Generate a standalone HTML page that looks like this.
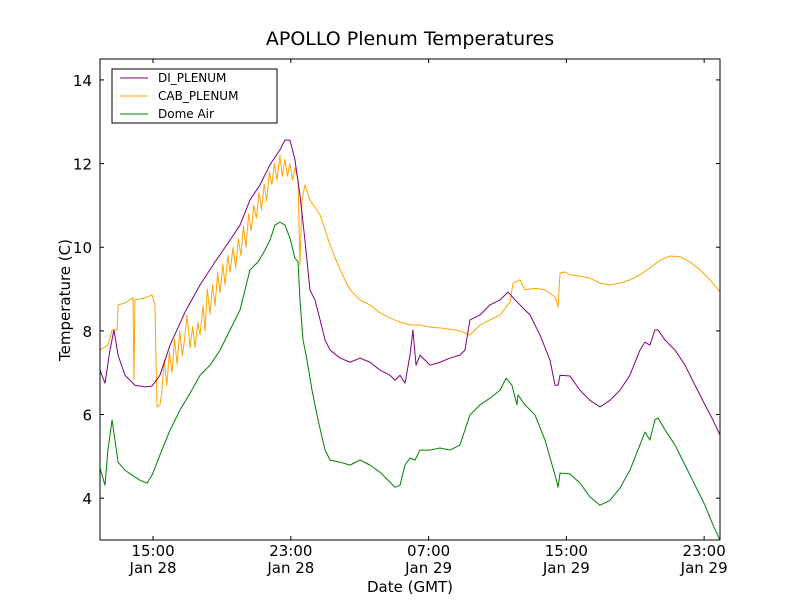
<!DOCTYPE html>
<html><head><meta charset="utf-8"><style>
html,body{margin:0;padding:0;background:#fff;}
svg{display:block;font-family:"DejaVu Sans","Liberation Sans",sans-serif;}
</style></head><body>
<svg id="chart" width="800" height="600" viewBox="0 0 800 600">
<rect x="0" y="0" width="800" height="600" fill="#fff"/>
<text x="410" y="45" text-anchor="middle" font-size="19">APOLLO Plenum Temperatures</text>
<defs><clipPath id="clip"><rect x="100" y="59" width="620" height="481"/></clipPath></defs>
<g id="series" clip-path="url(#clip)"></g>
<rect x="100" y="59" width="620" height="481" fill="none" stroke="#000" stroke-width="1"/>
<g id="axes"></g>
<text x="410" y="592" text-anchor="middle" font-size="15">Date (GMT)</text>
<text x="70" y="300" text-anchor="middle" font-size="15" transform="rotate(-90 70 300)">Temperature (C)</text>
<g>
<rect x="112" y="69" width="165" height="54" fill="#fff" stroke="#000" stroke-width="1"/>
<line x1="120" y1="78" x2="148" y2="78" stroke="#800080"/>
<text x="158" y="82" font-size="12">DI_PLENUM</text>
<line x1="120" y1="96" x2="148" y2="96" stroke="#ffa500"/>
<text x="158" y="100" font-size="12">CAB_PLENUM</text>
<line x1="120" y1="114" x2="148" y2="114" stroke="#008000"/>
<text x="158" y="118" font-size="12">Dome Air</text>
</g>
</svg>
<script>
// hours since Jan 28 00:00 GMT
const diTimes=[11.92,12.21,12.50,12.73,12.97,13.37,13.95,14.53,14.94,15.40,15.99,16.86,17.73,18.60,19.47,20.05,20.63,21.21,21.79,22.37,22.66,22.95,23.24,23.53,23.82,24.11,24.40,24.70,24.99,25.28,25.86,26.44,27.02,27.60,28.18,28.76,29.05,29.34,29.63,29.92,30.09,30.27,30.50,30.79,31.08,31.66,32.24,32.82,33.11,33.40,33.98,34.56,35.15,35.61,36.02,36.31,36.89,37.47,38.05,38.34,38.52,38.63,39.21,39.79,40.37,40.95,41.53,42.11,42.69,43.27,43.56,43.85,44.14,44.32,44.73,45.31,45.89,46.47,47.05,47.51,47.92];
const diValues=[7.06,6.75,7.54,8.02,7.42,6.94,6.70,6.66,6.68,6.94,7.66,8.45,9.10,9.65,10.17,10.53,11.13,11.49,11.97,12.33,12.56,12.56,12.09,11.25,10.17,8.98,8.74,8.26,7.78,7.54,7.35,7.25,7.35,7.25,7.06,6.94,6.82,6.94,6.75,7.42,8.02,7.18,7.42,7.30,7.18,7.25,7.35,7.42,7.54,8.26,8.38,8.62,8.74,8.93,8.74,8.62,8.38,7.90,7.30,6.70,6.70,6.94,6.92,6.58,6.34,6.18,6.34,6.58,6.94,7.54,7.73,7.66,8.02,8.02,7.78,7.54,7.18,6.70,6.23,5.87,5.51];
const cabTimes=[11.92,12.38,12.62,12.91,12.97,13.37,13.84,13.89,13.95,14.53,14.94,15.11,15.23,15.40,15.50,15.65,15.80,15.95,16.10,16.25,16.40,16.55,16.70,16.86,16.97,17.15,17.30,17.44,17.60,17.73,17.90,18.02,18.15,18.31,18.45,18.60,18.75,18.89,19.05,19.18,19.35,19.47,19.65,19.80,19.95,20.10,20.25,20.40,20.55,20.70,20.85,21.00,21.15,21.30,21.45,21.60,21.75,21.90,22.05,22.20,22.37,22.50,22.66,22.80,22.95,23.10,23.24,23.42,23.53,23.65,23.82,24.11,24.70,25.28,25.86,26.44,27.02,27.60,28.18,28.76,29.34,29.92,30.50,31.08,31.66,32.24,32.82,33.40,33.69,33.98,34.56,35.15,35.73,35.90,36.31,36.60,37.18,37.76,38.34,38.52,38.63,38.92,39.21,39.79,40.37,40.95,41.53,42.11,42.69,43.27,43.85,44.43,45.02,45.60,46.18,46.76,47.34,47.92];
const cabValues=[7.54,7.66,8.02,8.02,8.62,8.67,8.79,6.82,8.74,8.79,8.86,8.62,6.18,6.23,6.5,7.3,6.7,7.5,7.0,7.8,7.2,8.0,7.4,7.9,8.38,7.6,8.1,7.6,8.2,7.9,8.6,8.0,9.0,8.4,9.1,8.6,9.4,8.9,9.6,9.1,9.8,9.4,10.0,9.5,10.2,9.8,10.5,10.0,10.8,10.4,11.0,10.7,11.3,10.9,11.5,11.1,11.8,11.5,12.0,11.6,12.2,11.7,12.1,11.7,12.0,11.6,11.9,11.6,9.57,11.13,11.49,11.13,10.77,10.05,9.46,8.98,8.74,8.62,8.43,8.31,8.21,8.14,8.14,8.09,8.07,8.04,8.00,7.90,8.02,8.14,8.26,8.38,8.69,9.14,9.22,8.98,9.02,8.98,8.81,8.57,9.38,9.41,9.34,9.31,9.26,9.14,9.10,9.14,9.22,9.34,9.50,9.69,9.79,9.77,9.65,9.46,9.22,8.93];
const domeTimes=[11.92,12.21,12.38,12.62,12.79,12.97,13.37,13.78,14.24,14.65,14.94,15.40,15.99,16.57,17.15,17.73,18.31,18.89,19.47,20.05,20.34,20.63,21.10,21.50,21.79,22.08,22.37,22.66,22.95,23.24,23.42,23.53,23.71,23.94,24.23,24.58,24.99,25.28,25.86,26.44,27.02,27.60,28.18,28.76,29.05,29.34,29.63,29.92,30.21,30.50,31.08,31.66,32.24,32.82,33.11,33.40,33.98,34.56,35.15,35.50,35.84,36.13,36.19,36.60,37.18,37.76,38.34,38.52,38.63,39.21,39.79,40.37,40.95,41.53,42.11,42.69,43.27,43.56,43.85,44.14,44.32,44.73,45.31,45.89,46.47,47.05,47.51,47.92];
const domeValues=[4.72,4.31,5.15,5.87,5.39,4.86,4.67,4.55,4.43,4.36,4.55,5.03,5.63,6.11,6.51,6.94,7.18,7.54,8.02,8.50,8.98,9.46,9.65,9.93,10.17,10.53,10.60,10.53,10.22,9.74,9.65,8.74,7.78,7.30,6.58,5.87,5.15,4.91,4.86,4.79,4.91,4.79,4.62,4.38,4.26,4.31,4.79,4.96,4.91,5.15,5.15,5.20,5.15,5.27,5.63,5.99,6.23,6.39,6.58,6.87,6.70,6.23,6.47,6.23,5.99,5.39,4.55,4.26,4.60,4.58,4.36,4.03,3.83,3.95,4.24,4.67,5.27,5.58,5.39,5.87,5.92,5.63,5.27,4.79,4.31,3.83,3.36,3.00];
const yTicks=[4,6,8,10,12,14];
const xTickHours=[15,23,31,39,47];
const xTickTimes=["15:00","23:00","07:00","15:00","23:00"];
const xTickDates=["Jan 28","Jan 28","Jan 29","Jan 29","Jan 29"];

const NS="http://www.w3.org/2000/svg";
const X0=100,X1=720,Y0=540,Y1=59;
const H0=11.92,H1=47.92,T0=3,T1=14.5;
function xs(h){return X0+(h-H0)/(H1-H0)*(X1-X0);}
function ys(t){return Y0-(t-T0)/(T1-T0)*(Y0-Y1);}
const series=document.getElementById('series');
function drawLine(times,vals,color,name){
  const p=document.createElementNS(NS,'path');
  let d='';
  for(let i=0;i<times.length;i++){d+=(i?'L':'M')+xs(times[i]).toFixed(2)+','+ys(vals[i]).toFixed(2);}
  p.setAttribute('d',d);p.setAttribute('fill','none');p.setAttribute('stroke',color);p.setAttribute('stroke-width','1');p.setAttribute('stroke-linejoin','round');
  
  
  series.appendChild(p);
}
drawLine(cabTimes,cabValues,'#ffa500','cab-plenum-line');
drawLine(diTimes,diValues,'#800080','di-plenum-line');
drawLine(domeTimes,domeValues,'#008000','dome-air-line');

const axes=document.getElementById('axes');
function mk(tag,attrs){const e=document.createElementNS(NS,tag);for(const k in attrs)e.setAttribute(k,attrs[k]);axes.appendChild(e);return e;}
yTicks.forEach(v=>{
  const y=ys(v);
  const t1=mk('line',{x1:X0,y1:y,x2:X0+4,y2:y,stroke:'#000'});
  
  
  const t2=mk('line',{x1:X1,y1:y,x2:X1-4,y2:y,stroke:'#000'});
  
  
  const lb=mk('text',{x:92,y:y+6,'text-anchor':'end','font-size':'15'});
  lb.textContent=v;
  
  
});
xTickHours.forEach((h,i)=>{
  const x=xs(h);
  const t1=mk('line',{x1:x,y1:Y0,x2:x,y2:Y0-4,stroke:'#000'});
  
  
  const t2=mk('line',{x1:x,y1:Y1,x2:x,y2:Y1+4,stroke:'#000'});
  
  
  const a=mk('text',{x:x,y:556,'text-anchor':'middle','font-size':'15'});
  a.textContent=xTickTimes[i];
  
  
  const b=mk('text',{x:x,y:573,'text-anchor':'middle','font-size':'15'});
  b.textContent=xTickDates[i];
  
  
});
</script>
</body></html>
